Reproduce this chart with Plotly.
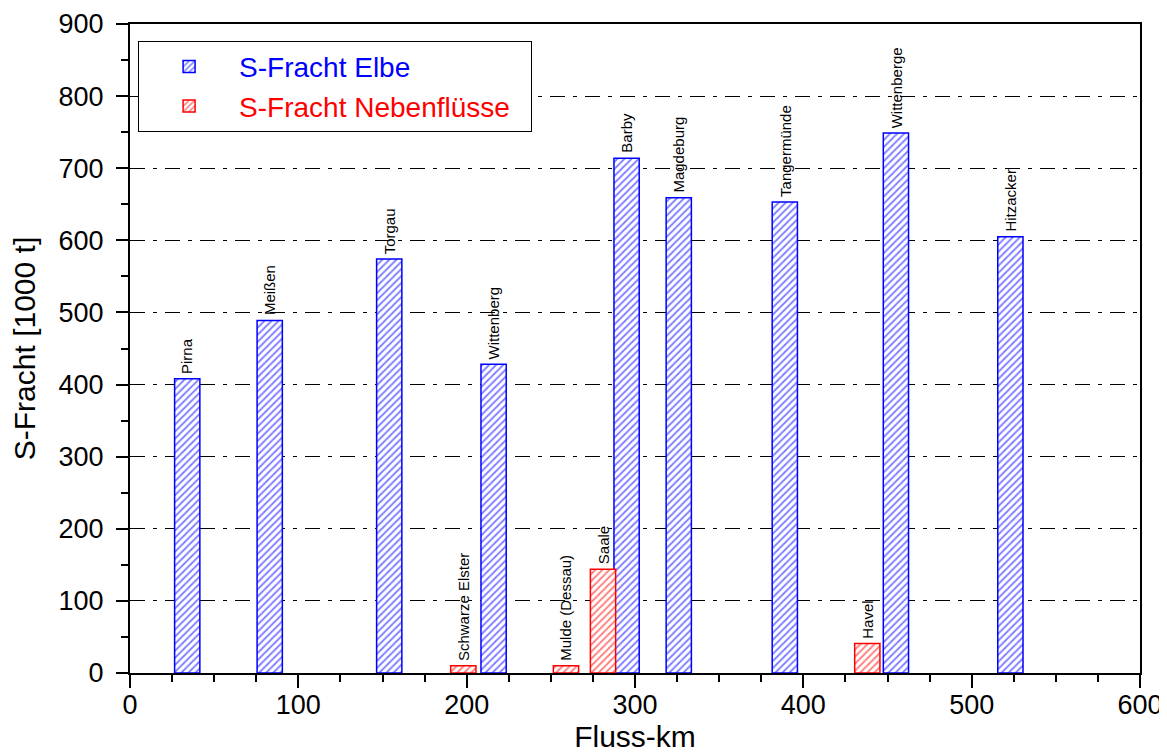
import plotly.graph_objects as go

# Elbe stations
elbe_names = ["Pirna", "Meißen", "Torgau", "Wittenberg", "Barby", "Magdeburg",
              "Tangermünde", "Wittenberge", "Hitzacker"]
elbe_km = [34, 83, 154, 216, 295, 326, 389, 455, 523]
elbe_load = [408, 489, 574, 428, 714, 659, 653, 749, 605]

# tributaries
trib_names = ["Schwarze Elster", "Mulde (Dessau)", "Saale", "Havel"]
trib_km = [198, 259, 281, 438]
trib_load = [10, 10, 144, 41]

bar_width_km = 15

y_ticks = [0, 100, 200, 300, 400, 500, 600, 700, 800, 900]
x_ticks = [0, 100, 200, 300, 400, 500, 600]

FONT = "Liberation Sans, Arial, sans-serif"
NB = "\u00a0"

fig = go.Figure()
fig.add_trace(go.Bar(
    x=elbe_km, y=elbe_load, width=bar_width_km,
    name="<span style='color:#0000ff'>S-Fracht Elbe</span>",
    marker=dict(color="white", line=dict(color="#0000ff", width=1.5),
                pattern=dict(shape="/", fgcolor="#0000ff", bgcolor="white",
                             size=5, solidity=0.38)),
))
fig.add_trace(go.Bar(
    x=trib_km, y=trib_load, width=bar_width_km,
    name="<span style='color:#ff0000'>S-Fracht Nebenflüsse" + NB * 2 + "</span>",
    marker=dict(color="white", line=dict(color="#ff0000", width=1.5),
                pattern=dict(shape="/", fgcolor="#ff0000", bgcolor="white",
                             size=5, solidity=0.38)),
))

for names, kms, vals in [(elbe_names, elbe_km, elbe_load), (trib_names, trib_km, trib_load)]:
    for n, k, v in zip(names, kms, vals):
        fig.add_annotation(x=k, y=v, text=n, textangle=-90, showarrow=False,
                           xanchor="center", yanchor="bottom", yshift=3,
                           font=dict(family=FONT, size=15, color="black"))

fig.update_layout(
    width=1159, height=747,
    margin=dict(l=122, r=27, t=16, b=82),
    paper_bgcolor="white", plot_bgcolor="white",
    barmode="overlay",
    font=dict(family=FONT, color="black"),
    showlegend=True,
    legend=dict(x=0.008, y=0.974, xanchor="left", yanchor="top",
                bgcolor="white", bordercolor="black", borderwidth=1,
                font=dict(family=FONT, size=28), itemwidth=90,
                tracegroupgap=2),
)
fig.update_xaxes(
    range=[0, 600], tickvals=x_ticks, ticks="outside", ticklen=13, tickwidth=1.5,
    tickcolor="black", showline=True, linecolor="black", linewidth=2, mirror=True,
    showgrid=False, zeroline=False, automargin=False, ticklabelstandoff=-6,
    tickfont=dict(family=FONT, size=27),
    minor=dict(dtick=25, ticks="outside", ticklen=7, tickcolor="black", tickwidth=1.5, showgrid=False),
    title=dict(text="Fluss-km", font=dict(family=FONT, size=30), standoff=2),
)
fig.update_yaxes(
    range=[0, 900], tickvals=y_ticks, ticks="outside", ticklen=12, tickwidth=1.5,
    tickcolor="black", showline=True, linecolor="black", linewidth=2, mirror=True,
    showgrid=True, gridcolor="black", gridwidth=1, griddash="15px,8px,4px,8px",
    zeroline=False, automargin=False, ticklabelstandoff=7,
    tickfont=dict(family=FONT, size=27),
    minor=dict(dtick=50, ticks="outside", ticklen=7, tickcolor="black", tickwidth=1.5, showgrid=False),
    title=dict(text="S-Fracht [1000 t]", font=dict(family=FONT, size=30), standoff=26),
)

fig.write_html("out.html")
